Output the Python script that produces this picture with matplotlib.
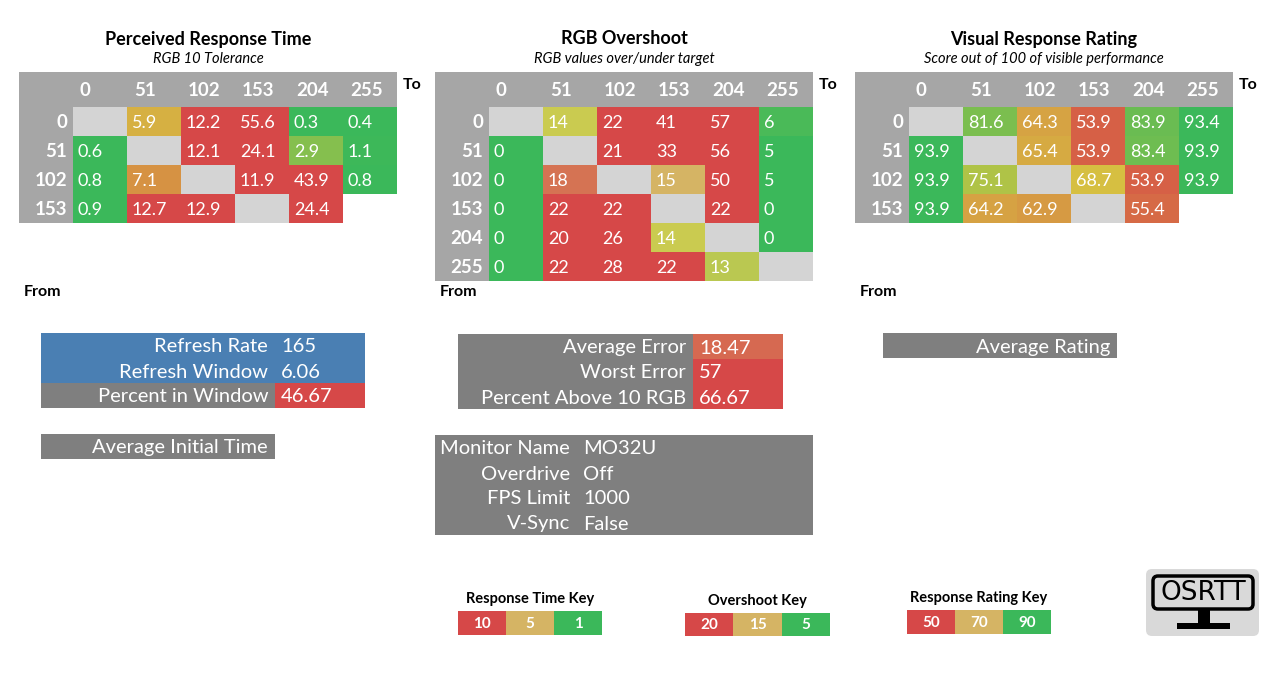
import numpy as np
import matplotlib
matplotlib.use('Agg')
import matplotlib.pyplot as plt
from matplotlib.colors import LinearSegmentedColormap, ListedColormap, Normalize, to_rgba
from matplotlib.patches import Rectangle, FancyBboxPatch

plt.rcParams['font.family'] = ['Lato', 'DejaVu Sans']

nan = np.nan

# transition levels (columns are "To", rows are "From")
to_levels = [0, 51, 102, 153, 204, 255]

prt_from = [0, 51, 102, 153]
prt_values = [[nan, 5.9, 12.2, 55.6, 0.3, 0.4],
              [0.6, nan, 12.1, 24.1, 2.9, 1.1],
              [0.8, 7.1, nan, 11.9, 43.9, 0.8],
              [0.9, 12.7, 12.9, nan, 24.4, nan]]

os_from = [0, 51, 102, 153, 204, 255]
os_values = [[nan, 14, 22, 41, 57, 6],
             [0, nan, 21, 33, 56, 5],
             [0, 18, nan, 15, 50, 5],
             [0, 22, 22, nan, 22, 0],
             [0, 20, 26, 14, nan, 0],
             [0, 22, 28, 22, 13, nan]]

vrr_from = [0, 51, 102, 153]
vrr_values = [[nan, 81.6, 64.3, 53.9, 83.9, 93.4],
              [93.9, nan, 65.4, 53.9, 83.4, 93.9],
              [93.9, 75.1, nan, 68.7, 53.9, 93.9],
              [93.9, 64.2, 62.9, nan, 55.4, nan]]

refresh_labels = ['Refresh Rate', 'Refresh Window', 'Percent in Window']
refresh_values = ['165', '6.06', '46.67']
error_labels = ['Average Error', 'Worst Error', 'Percent Above 10 RGB']
error_values = [18.47, 57, 66.67]
monitor_labels = ['Monitor Name', 'Overdrive', 'FPS Limit', 'V-Sync']
monitor_values = ['MO32U', 'Off', '1000', 'False']

rt_key = [10, 5, 1]
os_key = [20, 15, 5]
vrr_key = [50, 70, 90]

RED = '#D64848'
YELLOW = '#D7C841'
OLIVE = '#CACB50'
TAN = '#D5B464'
GREEN = '#3BB85A'
HEADER = '#A6A6A6'
DIAG = '#D4D4D4'
DARK = '#7F7F7F'
BLUE = '#4A7FB3'

W, H = 1280, 689
CELL_W, CELL_H, HEAD_H = 54, 29, 35

rt_cmap = LinearSegmentedColormap.from_list('rt', [(0, GREEN), (4 / 9, YELLOW), (1, RED)])
rt_norm = Normalize(1, 10, clip=True)
os_cmap = LinearSegmentedColormap.from_list('os', [(0, GREEN), (0.6, OLIVE), (2 / 3, TAN), (1, RED)])
os_norm = Normalize(5, 20, clip=True)
vrr_cmap = LinearSegmentedColormap.from_list('vrr', [(0, RED), (0.5, YELLOW), (1, GREEN)])
vrr_norm = Normalize(50, 90, clip=True)
key_cmap = ListedColormap([RED, TAN, GREEN])


def px_axes(fig, x0, y0, x1, y1):
    return fig.add_axes([x0 / W, 1 - y1 / H, (x1 - x0) / W, (y1 - y0) / H])


def draw_heatmap(fig, base, x0, y0, from_levels, values, cmap, norm, fmt, title, subtitle):
    values = np.array(values, dtype=float)
    nrows, ncols = values.shape
    ax = px_axes(fig, x0 + CELL_W, y0 + HEAD_H, x0 + CELL_W * (ncols + 1), y0 + HEAD_H + CELL_H * nrows)

    rgba = cmap(norm(np.nan_to_num(values)))
    for i, f in enumerate(from_levels):
        for j, t in enumerate(to_levels):
            if f == t:
                rgba[i, j] = to_rgba(DIAG)
            elif np.isnan(values[i, j]):
                rgba[i, j] = (1, 1, 1, 0)
    ax.imshow(rgba, aspect='auto', interpolation='nearest',
              extent=(-0.5, ncols - 0.5, nrows - 0.5, -0.5))
    ax.axis('off')

    # grey header row and label column
    hh = HEAD_H / CELL_H
    ax.add_patch(Rectangle((-1.5, -0.5 - hh), ncols + 1, hh, color=HEADER, lw=0, clip_on=False))
    ax.add_patch(Rectangle((-1.5, -0.5), 1, nrows, color=HEADER, lw=0, clip_on=False))

    dx = 1 / CELL_W
    dy = 1 / CELL_H
    for j, t in enumerate(to_levels):
        ax.text(j - 0.5 + 7 * dx, -0.5 - hh / 2 + dy, str(t), ha='left', va='center', color='white',
                fontweight='bold', fontsize=13.5, clip_on=False)
    for i, f in enumerate(from_levels):
        ax.text(-0.5 - 6 * dx, i + dy, str(f), ha='right', va='center', color='white',
                fontweight='bold', fontsize=13.5, clip_on=False)
        for j, t in enumerate(to_levels):
            v = values[i, j]
            if f == t or np.isnan(v):
                continue
            ax.text(j - 0.5 + 5 * dx, i + dy, fmt.format(v), ha='left', va='center', color='white',
                    fontsize=13)

    cx = x0 + CELL_W * (ncols + 1) / 2
    base.text(cx, y0 - 33, title, ha='center', va='center', fontweight='bold', fontsize=13)
    base.text(cx, y0 - 13, subtitle, ha='center', va='center', style='italic', fontsize=10.5)
    base.text(x0 + CELL_W * (ncols + 1) + 6, 85, 'To', ha='left', va='center', fontweight='bold', fontsize=11.5)
    base.text(x0 + 5, 292, 'From', ha='left', va='center', fontweight='bold', fontsize=11.5)


def draw_table(base, x0, y0, x_split, x1, labels, values, label_colors, value_colors, row_h=25):
    for i, (lab, val) in enumerate(zip(labels, values)):
        y = y0 + i * row_h
        base.add_patch(Rectangle((x0, y), x_split - x0, row_h, color=label_colors[i], lw=0))
        base.add_patch(Rectangle((x_split, y), x1 - x_split, row_h, color=value_colors[i], lw=0))
        base.text(x_split - 7, y + row_h / 2 + 1.5, lab, ha='right', va='center', color='white', fontsize=14.5)
        base.text(x_split + 6, y + row_h / 2 + 1.5, val, ha='left', va='center', color='white', fontsize=14.5)


def draw_key(fig, base, x0, y0, x1, y1, keys, title):
    ax = px_axes(fig, x0, y0, x1, y1)
    ax.imshow(np.arange(len(keys))[None, :], cmap=key_cmap, aspect='auto', interpolation='nearest')
    ax.axis('off')
    for j, k in enumerate(keys):
        ax.text(j, 0.03, str(k), ha='center', va='center', color='white', fontweight='bold', fontsize=11)
    base.text((x0 + x1) / 2, y0 - 12, title, ha='center', va='center', fontweight='bold', fontsize=10.5)


fig = plt.figure(figsize=(W / 100, H / 100), dpi=100)
base = fig.add_axes([0, 0, 1, 1])
base.set_xlim(0, W)
base.set_ylim(H, 0)
base.axis('off')

draw_heatmap(fig, base, 19, 72, prt_from, prt_values, rt_cmap, rt_norm, '{:.1f}',
             'Perceived Response Time', 'RGB 10 Tolerance')
draw_heatmap(fig, base, 435, 72, os_from, os_values, os_cmap, os_norm, '{:.0f}',
             'RGB Overshoot', 'RGB values over/under target')
draw_heatmap(fig, base, 855, 72, vrr_from, vrr_values, vrr_cmap, vrr_norm, '{:.1f}',
             'Visual Response Rating', 'Score out of 100 of visible performance')

# summary boxes
draw_table(base, 41, 333, 275, 365, refresh_labels, refresh_values,
           [BLUE, BLUE, DARK], [BLUE, BLUE, RED])
draw_table(base, 41, 434, 275, 275, ['Average Initial Time'], [''], [DARK], [DARK])

err_colors = [os_cmap(os_norm(error_values[0])), os_cmap(os_norm(error_values[1])), RED]
draw_table(base, 458, 334, 693, 783, error_labels, ['{:g}'.format(v) for v in error_values],
           [DARK] * 3, err_colors)
draw_table(base, 435, 435, 577, 813, monitor_labels, monitor_values, [DARK] * 4, [DARK] * 4)
draw_table(base, 883, 333, 1117, 1117, ['Average Rating'], [''], [DARK], [DARK])

# colour keys
draw_key(fig, base, 458, 611, 602, 635, rt_key, 'Response Time Key')
draw_key(fig, base, 685, 613, 830, 636, os_key, 'Overshoot Key')
draw_key(fig, base, 907, 610, 1051, 634, vrr_key, 'Response Rating Key')

# OSRTT logo
base.add_patch(FancyBboxPatch((1149, 572), 107, 61, boxstyle='round,pad=3,rounding_size=6',
                              fc='#D9D9D9', ec='none'))
base.add_patch(FancyBboxPatch((1155, 578), 96, 29, boxstyle='round,pad=2,rounding_size=5',
                              fc='none', ec='black', lw=2.5))
base.text(1203, 593, 'OSRTT', ha='center', va='center', fontsize=19, family='DejaVu Sans')
base.add_patch(Rectangle((1198, 610), 12, 13, fc='black', lw=0))
base.add_patch(Rectangle((1177, 623), 53, 6, fc='black', lw=0))

fig.savefig('out.png', dpi=100)
